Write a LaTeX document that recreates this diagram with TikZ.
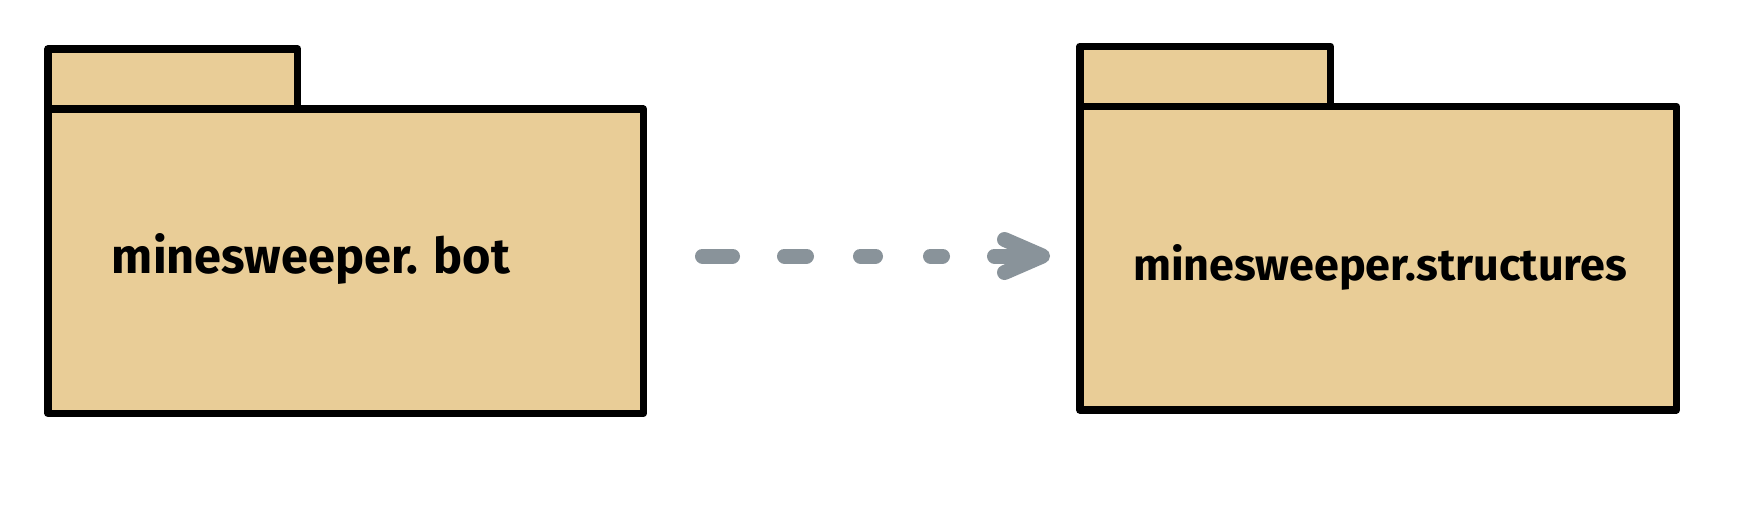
\documentclass[tikz,border=0pt]{standalone}
\usepackage{fontspec}
\setmainfont{Fira Sans}
\usetikzlibrary{arrows.meta}
\definecolor{pkgfill}{HTML}{E9CD97}
\definecolor{depgray}{HTML}{89939A}
\begin{document}
\begin{tikzpicture}[x=1pt,y=-1pt,
  pkg/.style={draw=black, fill=pkgfill, line width=7.5pt, line join=round,
    rectangle, inner sep=0pt, outer sep=0pt, anchor=north west},
  lbl/.style={font=\fontsize{40}{48}\selectfont\bfseries, inner sep=0pt, anchor=base},
  dep/.style={draw=depgray, line width=15pt, line cap=round,
    dash pattern=on 30pt off 52pt on 22pt off 54pt on 15pt off 55pt on 12pt off 52pt on 400pt,
    -{Straight Barb[length=38pt, width=33pt, round]}}]
\path[use as bounding box] (0,0) rectangle (1754,517);
% left package
\node[pkg, minimum width=249.7pt, minimum height=60pt] (t1) at (48,49) {};
\node[pkg, minimum width=595.3pt, minimum height=304.3pt] (b1) at (48,109) {};
\node[lbl] (l1) at (311,273.3) {\resizebox{398pt}{40pt}{minesweeper. bot}};
% right package
\node[pkg, minimum width=250.3pt, minimum height=60.2pt] (t2) at (1080,46.3) {};
\node[pkg, minimum width=596.3pt, minimum height=303.5pt] (b2) at (1080,106.5) {};
\node[lbl] (l2) at (1380,280) {\resizebox{494pt}{36pt}{minesweeper.structures}};
% dependency
\coordinate (ay) at (0,256);
\draw[dep, shorten <=59.2pt, shorten >=30pt] (b1.east |- ay) -- (b2.west |- ay);
\end{tikzpicture}
\end{document}
